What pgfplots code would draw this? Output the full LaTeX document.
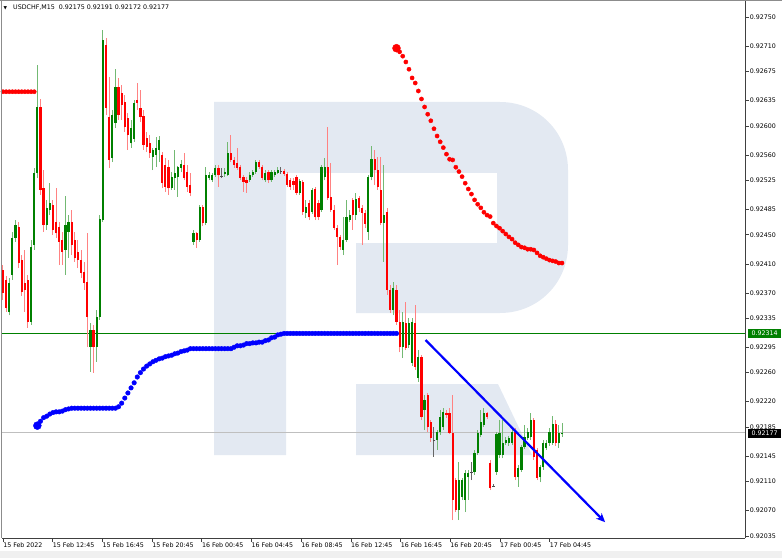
\documentclass[border=0pt]{standalone}
\usepackage{pgfplots}
\pgfplotsset{compat=1.18}
\usepackage{pgfplotstable}
\usetikzlibrary{arrows.meta}
\usepackage{fontspec}
\setmainfont{DejaVu Sans}

\definecolor{bull}{RGB}{0,128,0}
\definecolor{bear}{RGB}{255,0,0}
\definecolor{bullwick}{RGB}{115,185,115}
\definecolor{bearwick}{RGB}{255,130,130}
\definecolor{logo}{RGB}{227,233,242}
\definecolor{ind}{RGB}{0,0,255}

% USDCHF M15, bar index, open high low close
\pgfplotstableread{
i o h l c
0 0.92401 0.92408 0.92360 0.92370
1 0.92388 0.92393 0.92344 0.92349
2 0.92344 0.92390 0.92339 0.92384
3 0.92395 0.92454 0.92388 0.92446
4 0.92446 0.92470 0.92440 0.92463
5 0.92461 0.92468 0.92404 0.92411
6 0.92415 0.92422 0.92366 0.92371
7 0.92384 0.92429 0.92344 0.92374
8 0.92388 0.92395 0.92322 0.92330
9 0.92330 0.92443 0.92326 0.92433
10 0.92436 0.92542 0.92429 0.92535
11 0.92535 0.92684 0.92528 0.92626
12 0.92626 0.92637 0.92505 0.92512
13 0.92514 0.92539 0.92454 0.92463
14 0.92463 0.92498 0.92457 0.92487
15 0.92484 0.92521 0.92477 0.92494
16 0.92491 0.92498 0.92450 0.92457
17 0.92468 0.92514 0.92446 0.92452
18 0.92461 0.92468 0.92408 0.92440
19 0.92443 0.92454 0.92408 0.92426
20 0.92429 0.92503 0.92395 0.92463
21 0.92454 0.92477 0.92418 0.92468
22 0.92468 0.92484 0.92422 0.92436
23 0.92443 0.92454 0.92413 0.92418
24 0.92426 0.92443 0.92404 0.92415
25 0.92415 0.92429 0.92390 0.92397
26 0.92399 0.92413 0.92374 0.92384
27 0.92385 0.92452 0.92295 0.92337
28 0.92295 0.92328 0.92261 0.92319
29 0.92319 0.92326 0.92260 0.92295
30 0.92295 0.92346 0.92275 0.92337
31 0.92337 0.92477 0.92333 0.92472
32 0.92470 0.92732 0.92468 0.92718
33 0.92711 0.92721 0.92615 0.92625
34 0.92612 0.92667 0.92542 0.92553
35 0.92556 0.92622 0.92550 0.92615
36 0.92604 0.92678 0.92597 0.92654
37 0.92654 0.92666 0.92608 0.92615
38 0.92645 0.92656 0.92608 0.92629
39 0.92633 0.92643 0.92592 0.92598
40 0.92611 0.92618 0.92567 0.92587
41 0.92576 0.92608 0.92570 0.92597
42 0.92582 0.92636 0.92578 0.92632
43 0.92636 0.92659 0.92622 0.92632
44 0.92625 0.92649 0.92605 0.92612
45 0.92614 0.92622 0.92567 0.92574
46 0.92583 0.92592 0.92564 0.92571
47 0.92576 0.92587 0.92556 0.92563
48 0.92557 0.92570 0.92539 0.92567
49 0.92560 0.92585 0.92543 0.92570
50 0.92567 0.92586 0.92550 0.92581
51 0.92560 0.92564 0.92514 0.92521
52 0.92546 0.92556 0.92509 0.92516
53 0.92543 0.92553 0.92505 0.92514
54 0.92514 0.92536 0.92512 0.92530
55 0.92528 0.92567 0.92512 0.92535
56 0.92530 0.92545 0.92502 0.92543
57 0.92542 0.92553 0.92536 0.92548
58 0.92546 0.92563 0.92525 0.92528
59 0.92536 0.92546 0.92509 0.92516
60 0.92519 0.92535 0.92503 0.92508
61 0.92440 0.92457 0.92436 0.92452
62 0.92452 0.92454 0.92432 0.92443
63 0.92443 0.92491 0.92440 0.92488
64 0.92488 0.92491 0.92462 0.92466
65 0.92466 0.92543 0.92463 0.92532
66 0.92528 0.92536 0.92525 0.92532
67 0.92525 0.92535 0.92523 0.92532
68 0.92532 0.92546 0.92530 0.92542
69 0.92542 0.92546 0.92516 0.92532
70 0.92530 0.92542 0.92528 0.92530
71 0.92534 0.92542 0.92530 0.92536
72 0.92532 0.92578 0.92531 0.92563
73 0.92563 0.92587 0.92550 0.92553
74 0.92553 0.92557 0.92542 0.92546
75 0.92549 0.92570 0.92539 0.92542
76 0.92543 0.92546 0.92525 0.92528
77 0.92530 0.92532 0.92509 0.92523
78 0.92525 0.92530 0.92508 0.92521
79 0.92525 0.92536 0.92523 0.92532
80 0.92532 0.92539 0.92530 0.92536
81 0.92536 0.92553 0.92534 0.92550
82 0.92550 0.92553 0.92541 0.92543
83 0.92543 0.92546 0.92525 0.92528
84 0.92525 0.92539 0.92523 0.92535
85 0.92536 0.92539 0.92521 0.92525
86 0.92525 0.92539 0.92523 0.92536
87 0.92532 0.92539 0.92530 0.92536
88 0.92535 0.92543 0.92534 0.92539
89 0.92538 0.92543 0.92534 0.92538
90 0.92538 0.92541 0.92531 0.92534
91 0.92534 0.92536 0.92516 0.92519
92 0.92525 0.92528 0.92512 0.92516
93 0.92524 0.92528 0.92512 0.92519
94 0.92530 0.92532 0.92505 0.92508
95 0.92508 0.92527 0.92505 0.92524
96 0.92523 0.92525 0.92477 0.92481
97 0.92480 0.92498 0.92473 0.92488
98 0.92494 0.92498 0.92470 0.92474
99 0.92481 0.92514 0.92479 0.92512
100 0.92513 0.92516 0.92470 0.92474
101 0.92494 0.92498 0.92470 0.92474
102 0.92484 0.92546 0.92481 0.92543
103 0.92530 0.92556 0.92525 0.92543
104 0.92543 0.92598 0.92498 0.92501
105 0.92502 0.92549 0.92481 0.92484
106 0.92484 0.92491 0.92457 0.92459
107 0.92459 0.92463 0.92408 0.92447
108 0.92447 0.92450 0.92429 0.92433
109 0.92429 0.92474 0.92422 0.92443
110 0.92443 0.92498 0.92440 0.92474
111 0.92470 0.92484 0.92468 0.92477
112 0.92498 0.92501 0.92457 0.92477
113 0.92477 0.92508 0.92470 0.92499
114 0.92501 0.92503 0.92481 0.92487
115 0.92487 0.92491 0.92436 0.92480
116 0.92480 0.92484 0.92459 0.92465
117 0.92454 0.92532 0.92443 0.92530
118 0.92530 0.92572 0.92525 0.92554
119 0.92554 0.92567 0.92519 0.92539
120 0.92539 0.92557 0.92512 0.92516
121 0.92512 0.92557 0.92463 0.92466
122 0.92466 0.92546 0.92413 0.92477
123 0.92481 0.92487 0.92367 0.92374
124 0.92374 0.92381 0.92342 0.92346
125 0.92346 0.92385 0.92339 0.92377
126 0.92374 0.92381 0.92326 0.92330
127 0.92330 0.92346 0.92288 0.92295
128 0.92295 0.92344 0.92280 0.92330
129 0.92328 0.92357 0.92291 0.92294
130 0.92298 0.92335 0.92294 0.92328
131 0.92273 0.92335 0.92269 0.92330
132 0.92328 0.92353 0.92264 0.92268
133 0.92253 0.92291 0.92247 0.92282
134 0.92282 0.92284 0.92195 0.92199
135 0.92209 0.92229 0.92181 0.92222
136 0.92229 0.92232 0.92178 0.92185
137 0.92192 0.92195 0.92165 0.92170
138 0.92167 0.92185 0.92144 0.92167
139 0.92167 0.92181 0.92154 0.92178
140 0.92178 0.92209 0.92174 0.92199
141 0.92185 0.92211 0.92181 0.92206
142 0.92204 0.92209 0.92198 0.92202
143 0.92204 0.92211 0.92176 0.92177
144 0.92177 0.92229 0.92057 0.92085
145 0.92112 0.92115 0.92068 0.92071
146 0.92071 0.92137 0.92057 0.92112
147 0.92089 0.92115 0.92085 0.92112
148 0.92085 0.92126 0.92068 0.92122
149 0.92116 0.92126 0.92085 0.92122
150 0.92123 0.92137 0.92112 0.92123
151 0.92123 0.92154 0.92119 0.92149
152 0.92149 0.92181 0.92147 0.92177
153 0.92174 0.92209 0.92171 0.92192
154 0.92188 0.92211 0.92185 0.92204
155 0.92204 0.92206 0.92196 0.92199
156 0.92136 0.92140 0.92098 0.92101
157 0.92104 0.92107 0.92103 0.92104
158 0.92123 0.92178 0.92119 0.92176
159 0.92147 0.92195 0.92142 0.92177
160 0.92147 0.92195 0.92142 0.92163
161 0.92163 0.92171 0.92160 0.92167
162 0.92163 0.92173 0.92159 0.92170
163 0.92163 0.92184 0.92160 0.92178
164 0.92178 0.92184 0.92112 0.92116
165 0.92116 0.92133 0.92103 0.92129
166 0.92126 0.92160 0.92123 0.92158
167 0.92158 0.92188 0.92155 0.92171
168 0.92170 0.92184 0.92167 0.92178
169 0.92171 0.92204 0.92167 0.92195
170 0.92195 0.92198 0.92140 0.92144
171 0.92154 0.92156 0.92112 0.92115
172 0.92116 0.92133 0.92109 0.92130
173 0.92130 0.92167 0.92126 0.92163
174 0.92156 0.92167 0.92154 0.92163
175 0.92163 0.92184 0.92159 0.92178
176 0.92163 0.92200 0.92160 0.92189
177 0.92189 0.92195 0.92159 0.92163
178 0.92163 0.92188 0.92156 0.92177
179 0.92175 0.92191 0.92172 0.92177
}\candles

\begin{document}
\begin{tikzpicture}
\useasboundingbox (0pt,0pt) rectangle (782pt,558pt);

% watermark logo, in screen pixels (y down)
\begin{scope}[x=1pt,y=-1pt,shift={(0pt,558pt)}]
\fill[logo] (214,102) -- (500,102) .. controls (538,102) and (568,132) .. (568,170)
  -- (568,245) .. controls (568,283) and (538,313) .. (500,313) -- (356,313)
  -- (356,243) -- (497,243) -- (497,173) -- (286,173) -- (286,455) -- (214,455) -- cycle;
\fill[logo] (356,384) -- (498,384) -- (532,455) -- (356,455) -- cycle;
\fill[black!6] (0,551) rectangle (782,558);
\end{scope}

\begin{axis}[
  at={(2pt,20pt)}, anchor=south west,
  scale only axis, width=743pt, height=537pt,
  xmin=-0.32, xmax=237.6, ymin=0.920322, ymax=0.92772,
  axis x line*=bottom, axis y line*=right,
  axis line style={draw=black!75, line width=0.7pt},
  tick align=outside, major tick length=3.5pt,
  tick style={black!75, line width=0.5pt},
  scaled y ticks=false,
  xtick={0,15.91,31.82,47.73,63.64,79.55,95.46,111.37,127.28,143.19,159.1,175.01},
  xticklabels={15 Feb 2022,15 Feb 12:45,15 Feb 16:45,15 Feb 20:45,16 Feb 00:45,16 Feb 04:45,16 Feb 08:45,16 Feb 12:45,16 Feb 16:45,16 Feb 20:45,17 Feb 00:45,17 Feb 04:45},
  ytick={0.92035,0.92070,0.92110,0.92145,0.92185,0.92220,0.92260,0.92295,0.92335,0.92370,0.92410,0.92450,0.92485,0.92525,0.92560,0.92600,0.92635,0.92675,0.92710,0.92750},
  yticklabels={0.92035,0.92070,0.92110,0.92145,0.92185,0.92220,0.92260,0.92295,0.92335,0.92370,0.92410,0.92450,0.92485,0.92525,0.92560,0.92600,0.92635,0.92675,0.92710,0.92750},
  ticklabel style={font=\fontsize{6.3}{7}\selectfont, text=black},
  xticklabel style={anchor=north west, inner sep=0.6pt, xshift=-0.5pt},
  yticklabel style={anchor=west, inner sep=0.6pt, xshift=0.5pt},
]
% price levels
\addplot[black!25, line width=0.8pt, forget plot] coordinates {(-0.32,0.92177) (237.6,0.92177)};
\addplot[bull, line width=1.3pt, forget plot] coordinates {(-0.32,0.92314) (237.6,0.92314)};

% wicks
\addplot[draw=none, forget plot, restrict expr to domain={\thisrow{c}-\thisrow{o}}{0.000001:1},
  error bars/.cd, y dir=plus, y explicit, error mark=none,
  error bar style={draw=bullwick, line width=1pt}]
  table[x=i, y=l, y error plus expr=\thisrow{h}-\thisrow{l}]{\candles};
\addplot[draw=none, forget plot, restrict expr to domain={\thisrow{c}-\thisrow{o}}{-1:-0.000001},
  error bars/.cd, y dir=plus, y explicit, error mark=none,
  error bar style={draw=bearwick, line width=1pt}]
  table[x=i, y=l, y error plus expr=\thisrow{h}-\thisrow{l}]{\candles};
\addplot[draw=none, forget plot, restrict expr to domain={\thisrow{c}-\thisrow{o}}{-0.000001:0.000001},
  error bars/.cd, y dir=plus, y explicit, error mark=none,
  error bar style={draw=black!60, line width=1pt}]
  table[x=i, y=l, y error plus expr=\thisrow{h}-\thisrow{l}]{\candles};
% bodies
\addplot[draw=none, forget plot, restrict expr to domain={\thisrow{c}-\thisrow{o}}{0.000001:1},
  error bars/.cd, y dir=plus, y explicit, error mark=none,
  error bar style={draw=bull, line width=2.2pt}]
  table[x=i, y=o, y error plus expr=\thisrow{c}-\thisrow{o}]{\candles};
\addplot[draw=none, forget plot, restrict expr to domain={\thisrow{c}-\thisrow{o}}{-1:-0.000001},
  error bars/.cd, y dir=plus, y explicit, error mark=none,
  error bar style={draw=bear, line width=2.2pt}]
  table[x=i, y=c, y error plus expr=\thisrow{o}-\thisrow{c}]{\candles};
\addplot[only marks, mark=-, mark size=1.3pt, black!70, forget plot,
  restrict expr to domain={\thisrow{c}-\thisrow{o}}{-0.000001:0.000001}]
  table[x=i, y=o]{\candles};

% blue indicator
\addplot[only marks, mark=*, mark size=2.3pt, ind, mark options={draw=ind, fill=ind}] coordinates {
(12,0.92193) (13,0.92198) (14,0.92200) (15,0.92203) (16,0.92205) (17,0.92206) (18,0.92206) (19,0.92207)
(20,0.92209) (21,0.92210) (22,0.92211) (23,0.92211) (24,0.92211) (25,0.92211) (26,0.92211) (27,0.92211)
(28,0.92211) (29,0.92211) (30,0.92211) (31,0.92211) (32,0.92211) (33,0.92211) (34,0.92211) (35,0.92211)
(36,0.92211) (37,0.92213) (38,0.92218) (39,0.92225) (40,0.92232) (41,0.92239) (42,0.92246) (43,0.92254)
(44,0.92260) (45,0.92265) (46,0.92269) (47,0.92272) (48,0.92275) (49,0.92277) (50,0.92279) (51,0.92280)
(52,0.92282) (53,0.92283) (54,0.92284) (55,0.92286) (56,0.92287) (57,0.92289) (58,0.92290) (59,0.92291)
(60,0.92293) (61,0.92293) (62,0.92293) (63,0.92293) (64,0.92293) (65,0.92293) (66,0.92293) (67,0.92293)
(68,0.92293) (69,0.92293) (70,0.92293) (71,0.92293) (72,0.92293) (73,0.92293) (74,0.92295) (75,0.92297)
(76,0.92297) (77,0.92298) (78,0.92300) (79,0.92300) (80,0.92301) (81,0.92301) (82,0.92302) (83,0.92302)
(84,0.92304) (85,0.92305) (86,0.92308) (87,0.92309) (88,0.92312) (89,0.92313) (90,0.92314) (91,0.92314)
(92,0.92314) (93,0.92314) (94,0.92314) (95,0.92314) (96,0.92314) (97,0.92314) (98,0.92314) (99,0.92314)
(100,0.92314) (101,0.92314) (102,0.92314) (103,0.92314) (104,0.92314) (105,0.92314) (106,0.92314) (107,0.92314)
(108,0.92314) (109,0.92314) (110,0.92314) (111,0.92314) (112,0.92314) (113,0.92314) (114,0.92314) (115,0.92314)
(116,0.92314) (117,0.92314) (118,0.92314) (119,0.92314) (120,0.92314) (121,0.92314) (122,0.92314) (123,0.92314)
(124,0.92314) (125,0.92314) (126,0.92314)};
\addplot[only marks, mark=*, mark size=4pt, ind, mark options={draw=ind, fill=ind}] coordinates {(11,0.92187)};

% red indicator
\addplot[only marks, mark=*, mark size=2.1pt, bear, mark options={draw=bear, fill=bear}] coordinates {
(0,0.92647) (1,0.92647) (2,0.92647) (3,0.92647) (4,0.92647) (5,0.92647) (6,0.92647) (7,0.92647)
(8,0.92647) (9,0.92647) (10,0.92647)
(127,0.92702) (128,0.92696) (129,0.92688) (130,0.92678) (131,0.92666) (132,0.92659) (133,0.92648)
(134,0.92637) (135,0.92626) (136,0.92616) (137,0.92607) (138,0.92596) (139,0.92586) (140,0.92578)
(141,0.92570) (142,0.92561) (143,0.92554) (144,0.92553) (145,0.92543) (146,0.92537) (147,0.92530)
(148,0.92521) (149,0.92513) (150,0.92506) (151,0.92498) (152,0.92492) (153,0.92487) (154,0.92481)
(155,0.92477) (156,0.92475) (157,0.92466) (158,0.92462) (159,0.92459) (160,0.92455) (161,0.92451)
(162,0.92447) (163,0.92444) (164,0.92439) (165,0.92436) (166,0.92433) (167,0.92432) (168,0.92430)
(169,0.92430) (170,0.92429) (171,0.92425) (172,0.92421) (173,0.92419) (174,0.92417) (175,0.92415)
(176,0.92414) (177,0.92413) (178,0.92411) (179,0.92411)};
\addplot[only marks, mark=*, mark size=4pt, bear, mark options={draw=bear, fill=bear}] coordinates {(126,0.92707)};

% trend arrow
\addplot[ind, line width=2.2pt, -{Stealth[length=9pt,width=8pt]}] coordinates {(135.3,0.92305) (192.8,0.92054)};
\end{axis}

\begin{scope}[x=1pt,y=-1pt,shift={(0pt,558pt)}]
\draw[black!45, line width=1.2pt] (1.6,0) -- (1.6,538);
\draw[black!45, line width=0.8pt] (0,0.4) -- (782,0.4);
\node[anchor=west, inner sep=0pt, font=\fontsize{4.5}{5}\selectfont] at (3.5,8) {▼};
\node[anchor=west, inner sep=0pt, font=\fontsize{6.3}{7}\selectfont] at (13,8) {USDCHF,M15\ \ 0.92175 0.92191 0.92172 0.92177};
\node[fill=bull, text=white, inner sep=0pt, minimum width=33pt, minimum height=9pt, anchor=west,
  font=\fontsize{6.3}{7}\selectfont] at (748,333) {0.92314};
\node[fill=black, text=white, inner sep=0pt, minimum width=33pt, minimum height=9pt, anchor=west,
  font=\fontsize{6.3}{7}\selectfont] at (748,433) {0.92177};
\end{scope}
\end{tikzpicture}
\end{document}
